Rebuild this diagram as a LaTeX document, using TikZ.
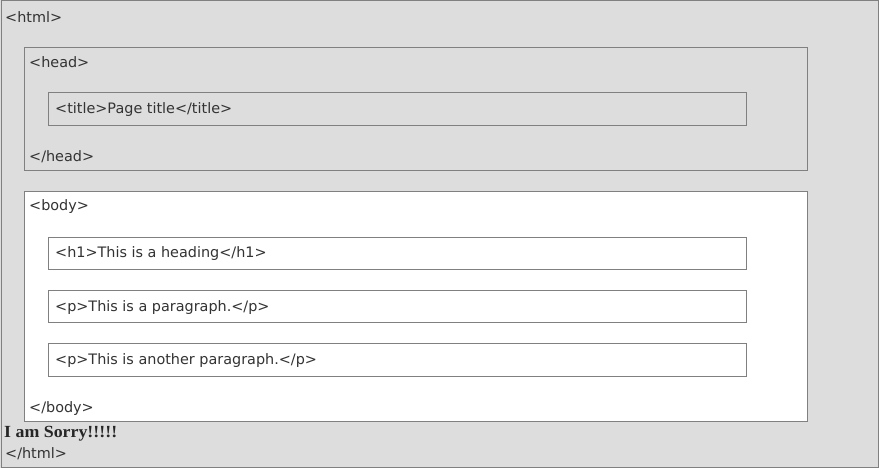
\documentclass[tikz,border=0pt]{standalone}
\usepackage{fontspec}
\setmainfont{DejaVu Sans}
\newfontfamily\sorryfont{Liberation Serif}
\definecolor{bggray}{HTML}{DDDDDD}
\definecolor{edgegray}{HTML}{808080}
\definecolor{txt}{HTML}{333333}
\begin{document}
\begin{tikzpicture}[x=1pt,y=-1pt,
  tag/.style={anchor=west,inner sep=0pt,text=txt,font=\fontsize{14.4}{16}\selectfont},
  box/.style={draw=edgegray,line width=1pt}]
\useasboundingbox (0,0) rectangle (879,468);
\fill[bggray] (0,0) rectangle (879,468);
\draw[box] (1,1) rectangle (878,467);
\node[tag] (html) at (5,17) {<html>};
% head
\draw[box] (24.5,47.5) rectangle (807.5,170.5);
\node[tag] (head) at (29,62) {<head>};
\draw[box] (48.5,92.5) rectangle (746.5,125.5);
\node[tag] (title) at (55,110) {<title>Page title</title>};
\node[tag] (headc) at (29,157) {</head>};
% body
\draw[box,fill=white] (24.5,191.5) rectangle (807.5,421.5);
\node[tag] (body) at (29,207) {<body>};
\draw[box] (48.5,237.5) rectangle (746.5,269.5);
\node[tag] (h1) at (55,254) {<h1>This is a heading</h1>};
\draw[box] (48.5,290.5) rectangle (746.5,322.5);
\node[tag] (p1) at (55,308) {<p>This is a paragraph.</p>};
\draw[box] (48.5,343.5) rectangle (746.5,376.5);
\node[tag] (p2) at (55,361) {<p>This is another paragraph.</p>};
\node[tag] (bodyc) at (29,409) {</body>};
\node[anchor=west,inner sep=0pt,xscale=1.05,text=black!85,font=\sorryfont\bfseries\fontsize{17}{19}\selectfont] (sorry) at (4,434) {I am Sorry!!!!!};
\node[tag] (htmlc) at (5,454) {</html>};
\end{tikzpicture}
\end{document}
